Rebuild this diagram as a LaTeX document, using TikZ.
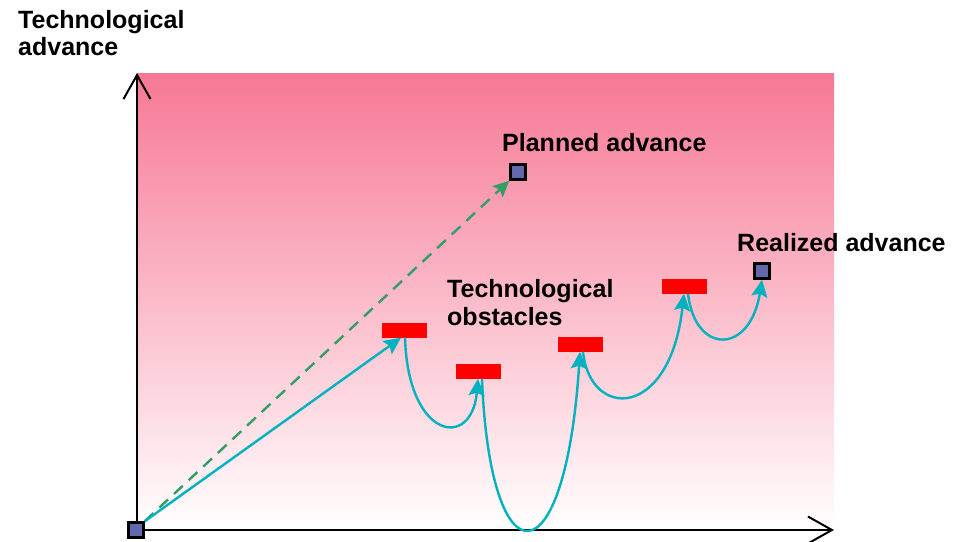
\documentclass[tikz,border=0pt]{standalone}
\usepackage{fontspec}
\setmainfont{Liberation Sans}
\usetikzlibrary{arrows.meta}
\definecolor{pinktop}{RGB}{247,120,149}
\definecolor{tealc}{RGB}{0,178,192}
\definecolor{greenc}{RGB}{51,158,100}
\definecolor{sqfill}{RGB}{98,104,170}
\tikzset{
  lbl/.style={anchor=base west, inner sep=0pt, font=\fontsize{25}{28}\selectfont\bfseries},
  sq/.style={draw=black, line width=2.5pt, fill=sqfill, minimum size=15pt, inner sep=0pt},
  obst/.style={fill=red, minimum width=45pt, minimum height=15pt, inner sep=0pt},
  axis/.style={line width=2pt, -{Straight Barb[length=24pt,width=27pt,line width=2pt]}},
  conn/.style={tealc, line width=2.4pt, -{Stealth[length=17pt,width=16pt,inset=3pt]}},
  plan/.style={greenc, line width=2.4pt, dash pattern=on 12pt off 8pt, -{Stealth[length=16pt,width=15pt,inset=3pt]}}
}
\begin{document}
\begin{tikzpicture}[x=1pt,y=-1pt]
\useasboundingbox (0,0) rectangle (960,541);
\shade[top color=pinktop, bottom color=white] (137,73) rectangle (834,530);
% axes
\coordinate (O) at (137,530);
\coordinate (Ytop) at (137,73);
\coordinate (Xend) at (834,530);
\draw[axis] (O) -- (Ytop);
\draw[axis] (O) -- (Xend);
% nodes
\node[sq] (o) at (136,530) {};
\node[sq] (p) at (518,172) {};
\node[sq] (r) at (762,271) {};
\node[obst] (b1) at (404,330) {};
\node[obst] (b2) at (478,371) {};
\node[obst] (b3) at (580,344) {};
\node[obst] (b4) at (684,286) {};
% labels
\node[lbl] (ylab1) at (18,28) {Technological};
\node[lbl] (ylab2) at (18,55) {advance};
\node[lbl] (plab) at (502,151) {Planned advance};
\node[lbl] (rlab) at (737,251) {Realized advance};
\node[lbl] (olab1) at (447,297) {Technological};
\node[lbl] (olab2) at (447,325) {obstacles};
% connectors
\draw[plan] (o.north east) -- (p.south west);
\draw[conn] (o.north east) -- ([xshift=-3pt]b1.south);
\draw[conn] ([xshift=1pt]b1.south) .. controls (408,440) and (472,450) .. (b2.south);
\draw[conn] ([xshift=4pt]b2.south) .. controls (490,584) and (565,584) .. (b3.south);
\draw[conn] ([xshift=3pt]b3.south) .. controls (590,420) and (670,420) .. (b4.south);
\draw[conn] ([xshift=4pt]b4.south) .. controls (695,355) and (750,355) .. (r.south);
\end{tikzpicture}
\end{document}
